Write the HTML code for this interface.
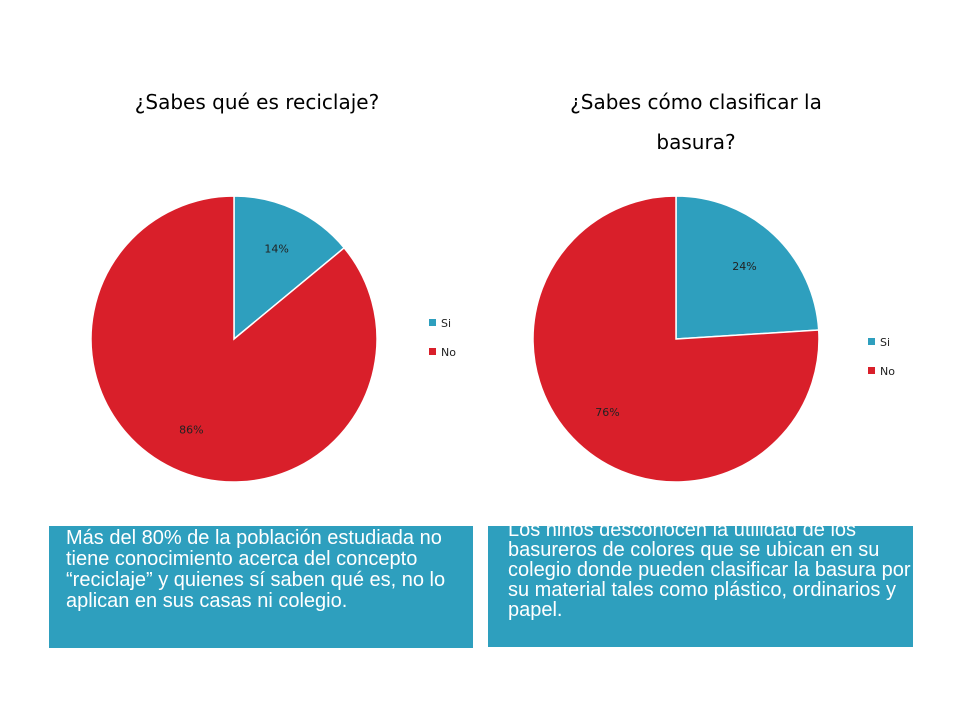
<!DOCTYPE html>
<html><head><meta charset="utf-8"><style>
body{margin:0;width:960px;height:720px;overflow:hidden;background:#fff;font-family:"DejaVu Sans","Liberation Sans",sans-serif;}
svg{position:absolute;left:0;top:0}
.box{position:absolute;background:#2E9FBE;color:#fff;font-family:"Liberation Sans Narrow","Liberation Sans",sans-serif;font-size:20px;line-height:21px;box-sizing:border-box;}
</style></head><body>
<svg id="chart" width="960" height="720">
<text x="257" y="109" font-size="20" text-anchor="middle" fill="#000">¿Sabes qué es reciclaje?</text>
<text x="696" y="109" font-size="20" text-anchor="middle" fill="#000">¿Sabes cómo clasificar la</text>
<text x="696" y="149" font-size="20" text-anchor="middle" fill="#000">basura?</text>
</svg>
<div class="box" style="left:49px;top:526px;width:424px;height:122px;padding:2px 0 0 17px;">Más del 80% de la población estudiada no tiene conocimiento acerca del concepto “reciclaje” y quienes sí saben qué es, no lo aplican en sus casas ni colegio.</div>
<div class="box" style="left:488px;top:526px;width:425px;height:121px;padding:0 0 0 20px;line-height:20px;overflow:hidden;"><div style="margin-top:-6px">Los niños desconocen la utilidad de los basureros de colores que se ubican en su colegio donde pueden clasificar la basura por su material tales como plástico, ordinarios y papel.</div></div>
<script>
const categories=["Si","No"];
const chart1Values=[14,86];
const chart2Values=[24,76];
const colors=["#2E9FBE","#D91F2A"];
const svg=document.getElementById('chart');
const NS="http://www.w3.org/2000/svg";
function drawPie(cx,cy,r,vals,legendX,legendY,id){
  const tot=vals.reduce((a,b)=>a+b,0);
  let a0=0;
  vals.forEach((v,i)=>{
    const a1=a0+v/tot*2*Math.PI;
    const x0=cx+r*Math.sin(a0),y0=cy-r*Math.cos(a0),x1=cx+r*Math.sin(a1),y1=cy-r*Math.cos(a1);
    const p=document.createElementNS(NS,'path');
    p.setAttribute('d',`M${cx},${cy}L${x0},${y0}A${r},${r} 0 ${a1-a0>Math.PI?1:0} 1 ${x1},${y1}Z`);
    p.setAttribute('fill',colors[i]);p.setAttribute('stroke','#fff');p.setAttribute('stroke-width','1.5');
    
    
    svg.appendChild(p);
    const mid=(a0+a1)/2,lr=r*0.7;
    const t=document.createElementNS(NS,'text');
    t.setAttribute('x',cx+lr*Math.sin(mid));t.setAttribute('y',cy-lr*Math.cos(mid)+4);
    t.setAttribute('font-size','11');t.setAttribute('text-anchor','middle');t.setAttribute('fill','#222');
    t.textContent=v+'%';
    
    
    svg.appendChild(t);
    const s=document.createElementNS(NS,'rect');
    s.setAttribute('x',legendX);s.setAttribute('y',legendY+i*29-4);s.setAttribute('width',7);s.setAttribute('height',7);s.setAttribute('fill',colors[i]);
    
    
    svg.appendChild(s);
    const lt=document.createElementNS(NS,'text');
    lt.setAttribute('x',legendX+12);lt.setAttribute('y',legendY+i*29+4);lt.setAttribute('font-size','11');lt.setAttribute('fill','#222');
    lt.textContent=categories[i];
    
    
    svg.appendChild(lt);
    a0=a1;
  });
}
drawPie(234,339,143,chart1Values,429,323,'chart1');
drawPie(676,339,143,chart2Values,868,342,'chart2');
</script>
</body></html>
